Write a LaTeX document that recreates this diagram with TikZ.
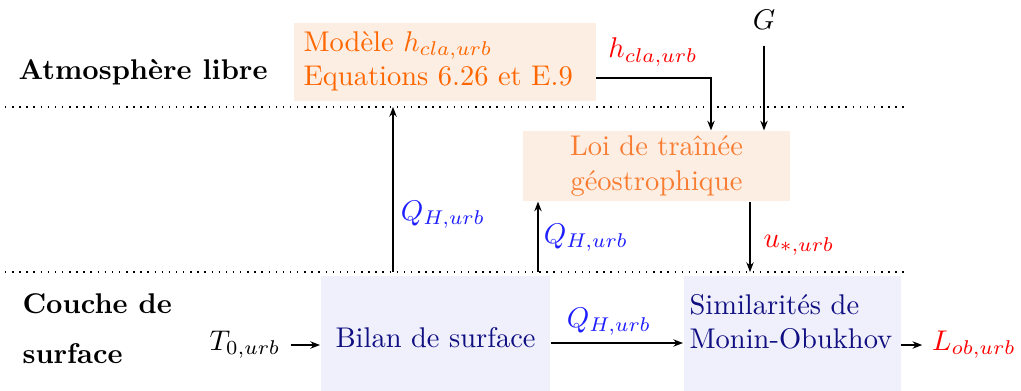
\documentclass[tikz,border=0pt]{standalone}
\usetikzlibrary{arrows.meta}
\definecolor{ofill}{RGB}{253,238,227}
\definecolor{otext}{RGB}{255,102,0}
\definecolor{otexttwo}{RGB}{248,125,50}
\definecolor{bfill}{RGB}{240,240,252}
\definecolor{btext}{RGB}{15,15,130}
\definecolor{qblue}{RGB}{30,30,255}
\definecolor{vred}{RGB}{255,0,0}
\begin{document}
\begin{tikzpicture}[x=0.351pt,y=-0.351pt,
  obox/.style={fill=ofill, inner sep=0pt},
  bbox/.style={fill=bfill, inner sep=0pt, anchor=north west, minimum height=43.2pt},
  arr/.style={-{Stealth[length=3.4pt,width=2.6pt]}, line width=0.4pt},
  sep/.style={dotted, line width=0.5pt},
  zone/.style={font=\bfseries, anchor=base west, inner sep=0pt},
  qlab/.style={text=qblue},
  rlab/.style={text=vred}]
\useasboundingbox (0,0) rectangle (1021,390);

% separators
\draw[sep] (5,107) -- (905,107);
\draw[sep] (5,272) -- (905,272);

% zone labels
\node[zone] (atm) at (18,79) {Atmosphère libre};
\node[zone] (couche) at (22,313) {Couche de};
\node[zone] (surf) at (22,363) {surface};

% boxes
\node[obox, anchor=north west, minimum width=106pt, minimum height=27.4pt,
      text width=99pt, inner xsep=3.5pt, align=left, text=otext] (modele) at (293,22)
  {Modèle $h_{cla,urb}$\\Equations 6.26 et E.9};
\node[obox, minimum width=93.7pt, minimum height=24.6pt, align=center, text=otexttwo] (loi) at (656.5,166)
  {Loi de traînée\\géostrophique};
\node[bbox, minimum width=80.7pt, text=btext] (bilan) at (320,275) {Bilan de surface};
\node[bbox, minimum width=76.2pt] (sim) at (683,275) {};
\node[anchor=west, inner sep=0pt, align=left, text=btext] (simt) at (689,322) {Similarités de\\Monin-Obukhov};

% variable labels
\node (t0) at (245,345) {$T_{0,urb}$};
\node[rlab] (lob) at (974,345) {$L_{ob,urb}$};
\node[qlab] (q3) at (609,322) {$Q_{H,urb}$};
\node[qlab] (q1) at (443,215) {$Q_{H,urb}$};
\node[qlab] (q2) at (586,238) {$Q_{H,urb}$};
\node[rlab] (ustar) at (799,245) {$u_{*,urb}$};
\node[rlab] (hcla) at (653,52) {$h_{cla,urb}$};
\node (G) at (764,20) {$G$};

% connectors
\coordinate (q1s) at (393,272);
\coordinate (q1e) at (393,107);
\coordinate (q2s) at (538,272);
\coordinate (us) at (750,272);
\coordinate (hc) at (711,78);

\draw[arr] (q1s) -- (q1e);
\draw[arr] (q2s) -- (q2s |- loi.south);
\draw[arr] (us |- loi.south) -- (us);
\draw[arr] (modele.east |- hc) -- (hc) -- (hc |- loi.north);
\draw[arr, shorten <=2pt] (G.south) -- (G.south |- loi.north);
\draw[arr] (t0.east) -- (t0.east -| bilan.west);
\draw[arr] (bilan.east |- 0,343) -- (sim.west |- 0,343);
\draw[arr] (sim.east |- lob.west) -- (lob.west);
\end{tikzpicture}
\end{document}
